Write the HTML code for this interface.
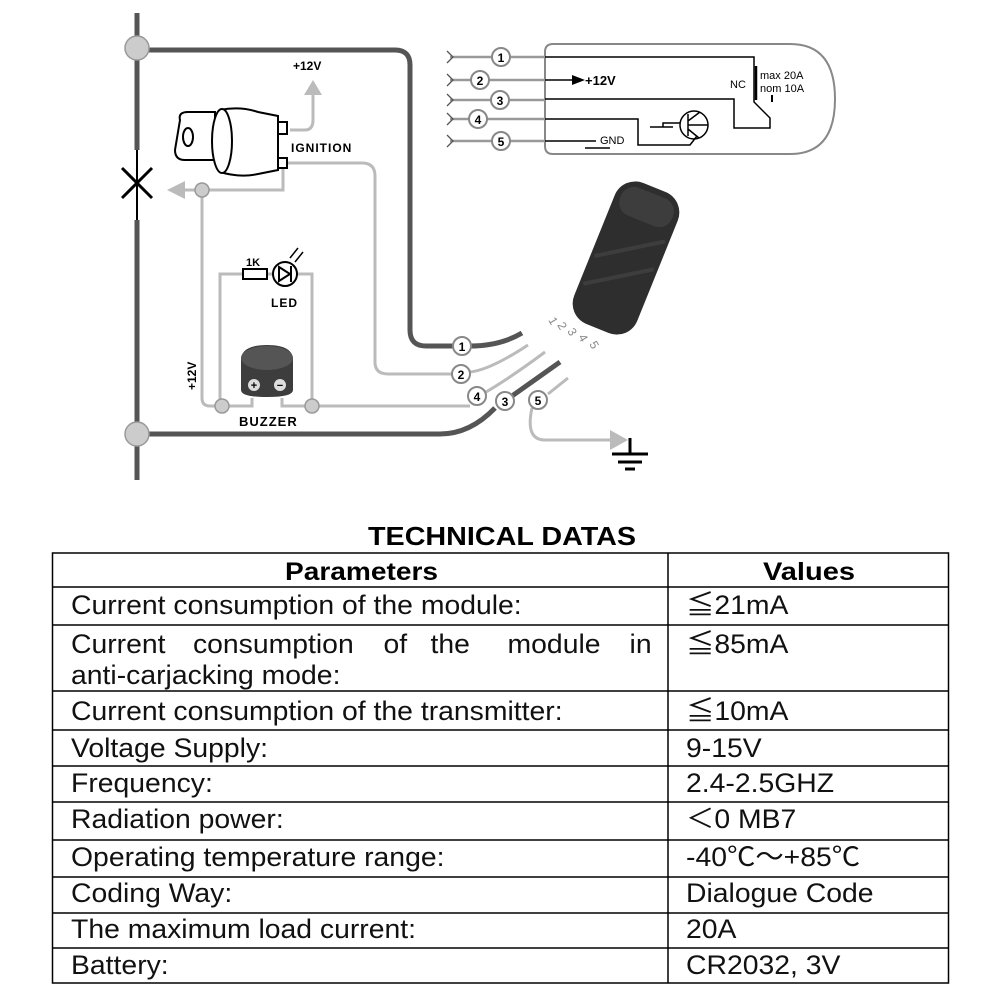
<!DOCTYPE html>
<html><head><meta charset="utf-8"><style>
html,body{margin:0;padding:0;background:#fff;}
svg{display:block;}
</style></head><body>
<svg width="1000" height="1000" viewBox="0 0 1000 1000" xmlns="http://www.w3.org/2000/svg" font-family="Liberation Sans, sans-serif">
<!-- left bus -->
<line x1="137" y1="13" x2="137" y2="150" stroke="#555" stroke-width="5"/>
<line x1="137" y1="150" x2="137" y2="220" stroke="#000" stroke-width="2"/>
<line x1="137" y1="220" x2="137" y2="480" stroke="#555" stroke-width="5"/>
<line x1="122" y1="168" x2="152" y2="198" stroke="#000" stroke-width="3"/>
<line x1="152" y1="168" x2="122" y2="198" stroke="#000" stroke-width="3"/>
<!-- thick wires -->
<path d="M137 50 H395 Q410 50 410 65 V330 Q410 346 426 346 H455 M470 346 Q500 346 522 333" fill="none" stroke="#555" stroke-width="5"/>
<path d="M137 434 H440 Q470 434 495 408 M512 396 L560 362" fill="none" stroke="#555" stroke-width="5"/>
<!-- gray wires -->
<g fill="none" stroke="#bbb" stroke-width="3">
<path d="M290 130 H305 Q313 130 313 120 V95"/>
<path d="M285 163 H362 Q375 163 375 176 V362 Q375 374 388 374 H452 M470 372 Q490 370 528 345"/>
<path d="M283 165 V190 H185"/>
<path d="M202 190 V398 Q202 406 210 406 H252 V398 M282 398 V406 H470 M486 392 Q510 378 545 352"/>
<path d="M220 406 V274 H243 M267 274 H273 M297 274 H312 V406"/>
<path d="M548 394 L568 378 M532 408 Q525 440 545 440 H610"/>
</g>
<polygon points="313,80 304,95 322,95" fill="#bbb"/>
<polygon points="167,190 185,181 185,199" fill="#bbb"/>
<polygon points="628,440 610,430 610,450" fill="#bbb"/>
<g fill="#ccc" stroke="#999" stroke-width="1.5">
<circle cx="137" cy="48" r="12"/><circle cx="137" cy="434" r="12"/>
<circle cx="202" cy="190" r="7"/><circle cx="222" cy="406" r="7"/><circle cx="312" cy="406" r="7"/>
</g>
<!-- ground -->
<g stroke="#000" stroke-width="3"><line x1="630" y1="438" x2="630" y2="453"/><line x1="612" y1="454" x2="648" y2="454"/><line x1="618" y1="462" x2="642" y2="462"/><line x1="625" y1="469" x2="635" y2="469"/></g>
<!-- ignition key -->
<g stroke="#000" stroke-width="2" fill="#fff">
<path d="M180 120 Q178 112 188 112 H215 V160 H185 Q175 160 175 150 Z"/>
<ellipse cx="188" cy="137" rx="5" ry="9" fill="#fff"/>
<path d="M220 110 Q240 106 258 112 L278 116 V170 L258 174 Q240 178 220 172 Z"/>
<ellipse cx="222" cy="141" rx="10" ry="32"/>
<rect x="278" y="122" width="9" height="12"/><rect x="278" y="158" width="9" height="10"/>
</g>
<text x="291" y="152" font-size="12" font-weight="bold" letter-spacing="1">IGNITION</text>
<text x="293" y="70" font-size="12" font-weight="bold">+12V</text>
<!-- LED -->
<rect x="243" y="269" width="24" height="10" fill="#fff" stroke="#000" stroke-width="2"/>
<text x="246" y="266" font-size="11" font-weight="bold">1K</text>
<circle cx="285" cy="274" r="12" fill="#fff" stroke="#000" stroke-width="2"/>
<polygon points="279,267 279,281 290,274" fill="#fff" stroke="#000" stroke-width="2"/>
<line x1="291" y1="266" x2="291" y2="282" stroke="#000" stroke-width="2"/>
<path d="M290 258 L298 248 M295 262 L303 252" stroke="#000" stroke-width="1.5"/>
<text x="271" y="307" font-size="12" font-weight="bold" letter-spacing="1">LED</text>
<!-- buzzer -->
<path d="M241 360 Q241 345 267 345 Q293 345 293 360 V390 Q293 397 267 397 Q241 397 241 390 Z" fill="#3d3d3d"/>
<ellipse cx="267" cy="358" rx="26" ry="12" fill="#555"/>
<circle cx="254" cy="385" r="6" fill="#ddd"/><circle cx="280" cy="385" r="6" fill="#ddd"/>
<text x="254" y="389" font-size="11" font-weight="bold" text-anchor="middle">+</text>
<text x="280" y="389" font-size="11" font-weight="bold" text-anchor="middle">−</text>
<text x="239" y="426" font-size="13" font-weight="bold" letter-spacing="1">BUZZER</text>
<text transform="translate(196,390) rotate(-90)" font-size="12" font-weight="bold">+12V</text>
<!-- module box -->
<path d="M553 44 H790 Q835 44 835 99 Q835 154 790 154 H553 Q545 154 545 146 V52 Q545 44 553 44 Z" fill="#fff" stroke="#888" stroke-width="2"/>
<g stroke="#999" stroke-width="2.5" fill="none">
<path d="M450 57 H545"/><path d="M450 80 H545"/><path d="M450 100 H545"/><path d="M450 119 H545"/><path d="M450 141 H545"/>
</g>
<g stroke="#555" stroke-width="1.3" fill="none">
<path d="M447 51 L453 57 L447 63"/><path d="M447 74 L453 80 L447 86"/><path d="M447 94 L453 100 L447 106"/><path d="M447 113 L453 119 L447 125"/><path d="M447 135 L453 141 L447 147"/>
</g>
<g stroke="#000" stroke-width="1.5" fill="none">
<path d="M545 57 H754 V102 L770 118 V128 H734 V99 H545"/>
<path d="M545 119 H638 V145 H690 L697 136"/>
<path d="M545 141 H596 M585 148 H610"/>
<path d="M650 127 H673 M663 127 V123 H680"/>
<circle cx="694" cy="125" r="14"/>
<path d="M688 114 V136 M688 125 H708 M688 121 L700 112 M688 129 L699 138"/>
<line x1="756" y1="66" x2="756" y2="100" stroke-width="2.5"/>
<line x1="772" y1="95" x2="772" y2="102" stroke-width="2"/>
</g>
<polygon points="585,80 572,75 572,85" fill="#000"/><line x1="545" y1="80" x2="575" y2="80" stroke="#000" stroke-width="1.5"/>
<text x="585" y="85" font-size="13" font-weight="bold">+12V</text>
<text x="600" y="144" font-size="11">GND</text>
<text x="730" y="88" font-size="11">NC</text>
<text x="760" y="79" font-size="11">max 20A</text>
<text x="760" y="92" font-size="11">nom 10A</text>
<!-- numbered circles -->
<g fill="#fff" stroke="#888" stroke-width="2">
<circle cx="501" cy="57" r="9"/><circle cx="480" cy="80" r="9"/><circle cx="500" cy="100" r="9"/><circle cx="478" cy="119" r="9"/><circle cx="501" cy="141" r="9"/>
<circle cx="462" cy="346" r="9"/><circle cx="461" cy="374" r="9"/><circle cx="477" cy="396" r="9"/><circle cx="505" cy="401" r="9"/><circle cx="538" cy="400" r="9"/>
</g>
<g font-size="12" font-weight="bold" text-anchor="middle">
<text x="501" y="62">1</text><text x="480" y="85">2</text><text x="500" y="105">3</text><text x="478" y="124">4</text><text x="501" y="146">5</text>
<text x="462" y="351">1</text><text x="461" y="379">2</text><text x="477" y="401">4</text><text x="505" y="406">3</text><text x="538" y="405">5</text>
</g>
<!-- remote -->
<g transform="translate(626,258) rotate(22)">
<rect x="-34" y="-76" width="68" height="152" rx="22" fill="#2e2e2e"/>
<rect x="-28" y="-70" width="56" height="30" rx="14" fill="#444" opacity="0.7"/>
<path d="M-30 10 L30 -30 M-30 40 L30 0" stroke="#3d3d3d" stroke-width="4"/>
</g>
<g font-size="12" fill="#888">
<text transform="translate(548,320) rotate(60)">1</text><text transform="translate(557,325) rotate(60)">2</text><text transform="translate(567,331) rotate(60)">3</text><text transform="translate(578,337) rotate(60)">4</text><text transform="translate(589,344) rotate(60)">5</text>
</g>
<!-- table -->
<text x="368" y="545" font-size="26" font-weight="bold" textLength="268" lengthAdjust="spacingAndGlyphs">TECHNICAL DATAS</text>
<g stroke="#000" stroke-width="1.5" fill="none">
<rect x="52.5" y="553" width="896" height="430"/>
<line x1="668" y1="553" x2="668" y2="983"/>
<line x1="52" y1="587" x2="949" y2="587"/><line x1="52" y1="625" x2="949" y2="625"/><line x1="52" y1="691" x2="949" y2="691"/><line x1="52" y1="730" x2="949" y2="730"/><line x1="52" y1="766" x2="949" y2="766"/><line x1="52" y1="802" x2="949" y2="802"/><line x1="52" y1="840" x2="949" y2="840"/><line x1="52" y1="877" x2="949" y2="877"/><line x1="52" y1="913" x2="949" y2="913"/><line x1="52" y1="948" x2="949" y2="948"/>
</g>
<g font-size="25" font-weight="bold">
<text x="285" y="580" textLength="153" lengthAdjust="spacingAndGlyphs">Parameters</text>
<text x="763" y="580" textLength="92" lengthAdjust="spacingAndGlyphs">Values</text>
</g>
<g font-size="26.5" fill="#111" transform="translate(71,0) scale(1.07,1)">
<text x="0" y="614">Current consumption of the module:</text>
<text y="653"><tspan x="0">Current</tspan><tspan x="114">consumption</tspan><tspan x="292">of</tspan><tspan x="336">the</tspan><tspan x="408">module</tspan><tspan x="522">in</tspan></text>
<text x="0" y="684">anti-carjacking mode:</text>
<text x="0" y="720">Current consumption of the transmitter:</text>
<text x="0" y="757">Voltage Supply:</text>
<text x="0" y="792">Frequency:</text>
<text x="0" y="828">Radiation power:</text>
<text x="0" y="866">Operating temperature range:</text>
<text x="0" y="902">Coding Way:</text>
<text x="0" y="938">The maximum load current:</text>
<text x="0" y="974">Battery:</text>
</g>
<g font-size="26.5" fill="#111" font-family="Liberation Sans, Noto Sans CJK SC, sans-serif" transform="translate(686,0) scale(1.07,1)">
<text x="0" y="614">≦21mA</text>
<text x="0" y="653">≦85mA</text>
<text x="0" y="720">≦10mA</text>
<text x="0" y="757">9-15V</text>
<text x="0" y="792">2.4-2.5GHZ</text>
<text x="0" y="828">＜0 MB7</text>
<text x="0" y="866">-40℃～+85℃</text>
<text x="0" y="902">Dialogue Code</text>
<text x="0" y="938">20A</text>
<text x="0" y="974">CR2032, 3V</text>
</g>
</svg>
</body></html>
